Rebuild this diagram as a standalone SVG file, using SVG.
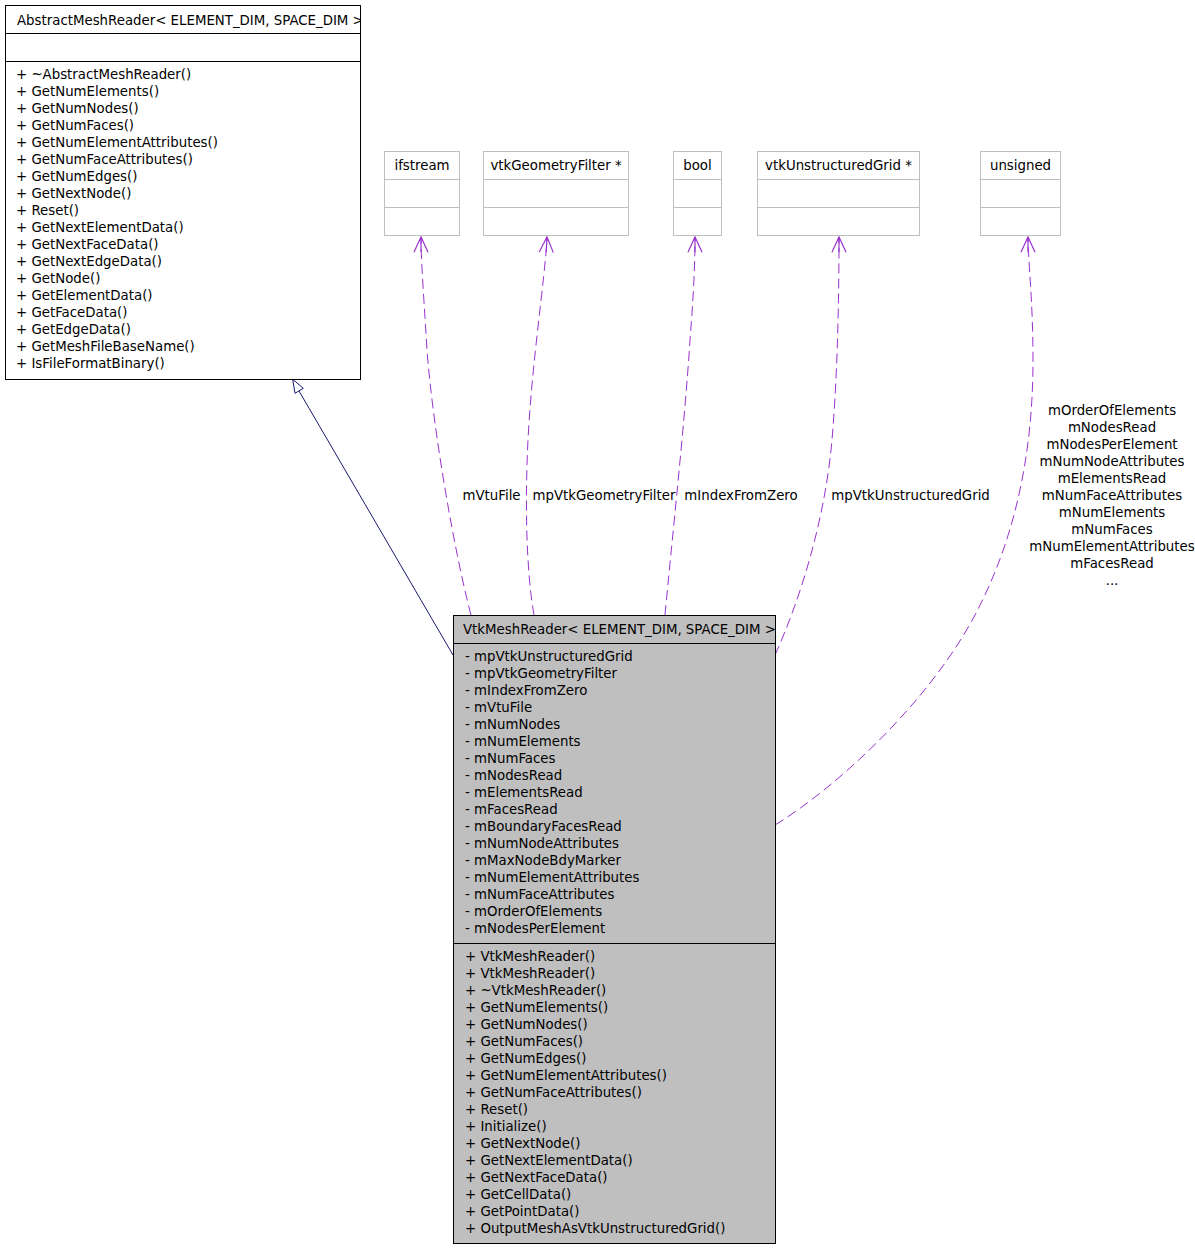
<svg xmlns="http://www.w3.org/2000/svg" width="1195" height="1248" viewBox="0 0 1195 1248">
<style>
text { font-family: "DejaVu Sans", "Liberation Sans", sans-serif; font-size: 13.33px; fill: #000; }
.c { text-anchor: middle; }
.box { fill: #fff; stroke: #000; stroke-width: 1; }
.main { fill: #bfbfbf; stroke: #000; stroke-width: 1; }
.sbox { fill: #fff; stroke: #bfbfbf; stroke-width: 1; }
.sep { stroke: #000; stroke-width: 1; }
.ssep { stroke: #bfbfbf; stroke-width: 1; }
.use { fill: none; stroke: #9a32cd; stroke-width: 1; stroke-dasharray: 10,5; marker-end: url(#open); }
.inh { fill: none; stroke: #191970; stroke-width: 1; }
</style>
<defs>
<marker id="open" markerUnits="userSpaceOnUse" markerWidth="20" markerHeight="20" refX="0" refY="0" orient="auto" viewBox="-15 -8 17 16" overflow="visible">
<path d="M-13,-6 L0,0 L-13,6 M-13,0 L0,0" fill="none" stroke="#9a32cd" stroke-width="1" stroke-dasharray="none"/>
</marker>
<clipPath id="clipA"><rect x="5" y="5" width="355" height="28"/></clipPath>
<clipPath id="clipV"><rect x="453" y="615" width="322" height="28"/></clipPath>
</defs>

<g id="connectors">
<path class="inh" d="M453,655 L299,391"/>
<polygon points="292.7,379.3 295,393.3 303.3,388.3" fill="#fff" stroke="#191970" stroke-width="1"/>
<path class="use" d="M471,615 C455,555 433,430 427,350 C424,300 421,260 421,237"/>
<path class="use" d="M534,615 C526,570 525,500 528,440 C532,360 545,280 547,237"/>
<path class="use" d="M665,615 C672,540 685,420 690,340 C694,290 695,260 695,237"/>
<path class="use" d="M775,655 C800,600 825,520 832,440 C838,370 839,290 839,237"/>
<path class="use" d="M775,825 C840,785 930,700 975,615 C1020,530 1033,440 1033,360 C1033,300 1028,260 1028,237"/>
<text class="c" x="491.5" y="500">mVtuFile</text>
<text class="c" x="604" y="500">mpVtkGeometryFilter</text>
<text class="c" x="741" y="500">mIndexFromZero</text>
<text class="c" x="910.5" y="500">mpVtkUnstructuredGrid</text>
<text class="c" x="1112" y="415">mOrderOfElements</text>
<text class="c" x="1112" y="432">mNodesRead</text>
<text class="c" x="1112" y="449">mNodesPerElement</text>
<text class="c" x="1112" y="466">mNumNodeAttributes</text>
<text class="c" x="1112" y="483">mElementsRead</text>
<text class="c" x="1112" y="500">mNumFaceAttributes</text>
<text class="c" x="1112" y="517">mNumElements</text>
<text class="c" x="1112" y="534">mNumFaces</text>
<text class="c" x="1112" y="551">mNumElementAttributes</text>
<text class="c" x="1112" y="568">mFacesRead</text>
<text class="c" x="1112" y="585">...</text>
</g>

<g id="AbstractMeshReader">
<rect class="box" x="5.5" y="5.5" width="355" height="374"/>
<line class="sep" x1="5.5" y1="33.5" x2="360.5" y2="33.5"/>
<line class="sep" x1="5.5" y1="61.5" x2="360.5" y2="61.5"/>
<text x="17" y="25" clip-path="url(#clipA)">AbstractMeshReader&lt; ELEMENT_DIM, SPACE_DIM &gt;</text>
<text x="16" y="79">+ ~AbstractMeshReader()</text>
<text x="16" y="96">+ GetNumElements()</text>
<text x="16" y="113">+ GetNumNodes()</text>
<text x="16" y="130">+ GetNumFaces()</text>
<text x="16" y="147">+ GetNumElementAttributes()</text>
<text x="16" y="164">+ GetNumFaceAttributes()</text>
<text x="16" y="181">+ GetNumEdges()</text>
<text x="16" y="198">+ GetNextNode()</text>
<text x="16" y="215">+ Reset()</text>
<text x="16" y="232">+ GetNextElementData()</text>
<text x="16" y="249">+ GetNextFaceData()</text>
<text x="16" y="266">+ GetNextEdgeData()</text>
<text x="16" y="283">+ GetNode()</text>
<text x="16" y="300">+ GetElementData()</text>
<text x="16" y="317">+ GetFaceData()</text>
<text x="16" y="334">+ GetEdgeData()</text>
<text x="16" y="351">+ GetMeshFileBaseName()</text>
<text x="16" y="368">+ IsFileFormatBinary()</text>
</g>

<g id="ifstream">
<rect class="sbox" x="384.5" y="151.5" width="75" height="84"/>
<line class="ssep" x1="384.5" y1="179.5" x2="459.5" y2="179.5"/>
<line class="ssep" x1="384.5" y1="207.5" x2="459.5" y2="207.5"/>
<text class="c" x="422" y="170">ifstream</text>
</g>

<g id="vtkGeometryFilter">
<rect class="sbox" x="483.5" y="151.5" width="145" height="84"/>
<line class="ssep" x1="483.5" y1="179.5" x2="628.5" y2="179.5"/>
<line class="ssep" x1="483.5" y1="207.5" x2="628.5" y2="207.5"/>
<text class="c" x="556" y="170">vtkGeometryFilter *</text>
</g>

<g id="bool">
<rect class="sbox" x="673.5" y="151.5" width="48" height="84"/>
<line class="ssep" x1="673.5" y1="179.5" x2="721.5" y2="179.5"/>
<line class="ssep" x1="673.5" y1="207.5" x2="721.5" y2="207.5"/>
<text class="c" x="697.5" y="170">bool</text>
</g>

<g id="vtkUnstructuredGrid">
<rect class="sbox" x="757.5" y="151.5" width="162" height="84"/>
<line class="ssep" x1="757.5" y1="179.5" x2="919.5" y2="179.5"/>
<line class="ssep" x1="757.5" y1="207.5" x2="919.5" y2="207.5"/>
<text class="c" x="838.5" y="170">vtkUnstructuredGrid *</text>
</g>

<g id="unsigned">
<rect class="sbox" x="980.5" y="151.5" width="80" height="84"/>
<line class="ssep" x1="980.5" y1="179.5" x2="1060.5" y2="179.5"/>
<line class="ssep" x1="980.5" y1="207.5" x2="1060.5" y2="207.5"/>
<text class="c" x="1020.5" y="170">unsigned</text>
</g>

<g id="VtkMeshReader">
<rect class="main" x="453.5" y="615.5" width="322" height="628"/>
<line class="sep" x1="453.5" y1="643.5" x2="775.5" y2="643.5"/>
<line class="sep" x1="453.5" y1="943.5" x2="775.5" y2="943.5"/>
<text x="463" y="634" clip-path="url(#clipV)">VtkMeshReader&lt; ELEMENT_DIM, SPACE_DIM &gt;</text>
<text x="465" y="661">- mpVtkUnstructuredGrid</text>
<text x="465" y="678">- mpVtkGeometryFilter</text>
<text x="465" y="695">- mIndexFromZero</text>
<text x="465" y="712">- mVtuFile</text>
<text x="465" y="729">- mNumNodes</text>
<text x="465" y="746">- mNumElements</text>
<text x="465" y="763">- mNumFaces</text>
<text x="465" y="780">- mNodesRead</text>
<text x="465" y="797">- mElementsRead</text>
<text x="465" y="814">- mFacesRead</text>
<text x="465" y="831">- mBoundaryFacesRead</text>
<text x="465" y="848">- mNumNodeAttributes</text>
<text x="465" y="865">- mMaxNodeBdyMarker</text>
<text x="465" y="882">- mNumElementAttributes</text>
<text x="465" y="899">- mNumFaceAttributes</text>
<text x="465" y="916">- mOrderOfElements</text>
<text x="465" y="933">- mNodesPerElement</text>
<text x="465" y="961">+ VtkMeshReader()</text>
<text x="465" y="978">+ VtkMeshReader()</text>
<text x="465" y="995">+ ~VtkMeshReader()</text>
<text x="465" y="1012">+ GetNumElements()</text>
<text x="465" y="1029">+ GetNumNodes()</text>
<text x="465" y="1046">+ GetNumFaces()</text>
<text x="465" y="1063">+ GetNumEdges()</text>
<text x="465" y="1080">+ GetNumElementAttributes()</text>
<text x="465" y="1097">+ GetNumFaceAttributes()</text>
<text x="465" y="1114">+ Reset()</text>
<text x="465" y="1131">+ Initialize()</text>
<text x="465" y="1148">+ GetNextNode()</text>
<text x="465" y="1165">+ GetNextElementData()</text>
<text x="465" y="1182">+ GetNextFaceData()</text>
<text x="465" y="1199">+ GetCellData()</text>
<text x="465" y="1216">+ GetPointData()</text>
<text x="465" y="1233">+ OutputMeshAsVtkUnstructuredGrid()</text>
</g>
</svg>
